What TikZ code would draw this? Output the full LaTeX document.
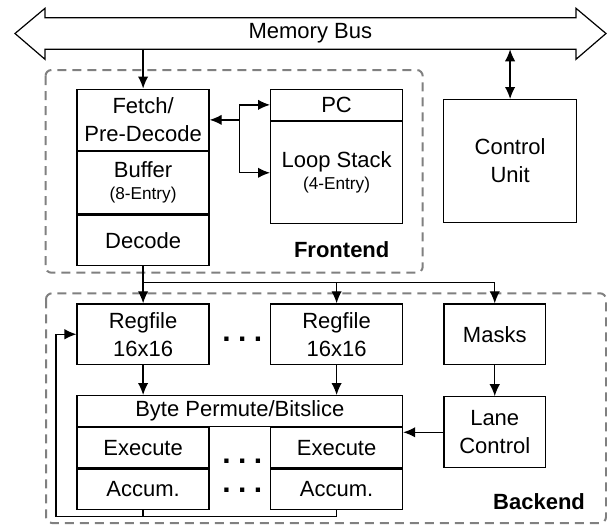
\documentclass[tikz,border=0pt]{standalone}
\usepackage{fontspec}
\setmainfont{Liberation Sans}
\usetikzlibrary{arrows.meta, positioning}
\newcommand{\subtxt}[1]{{\fontsize{8.6}{10}\selectfont #1}}

\begin{document}
\begin{tikzpicture}[
                x=0.5pt, y=-0.5pt,
                >={Latex[length=6pt,width=5.2pt]},
                box/.style={
                    draw,
                    line width=0.6pt,
                    inner sep=0pt,
                    minimum width=66pt,
                    align=center
                },
                arr/.style={
                    ->,
                    line width=0.65pt
                },
                grp/.style={
                    draw=black!50,
                    line width=1pt,
                    dash pattern=on 4.5pt off 3pt,
                    rounded corners=3pt
                },
                dots/.style={anchor=base, font=\fontsize{15}{15}\selectfont\bfseries},
                every node/.style={font=\fontsize{11}{14}\selectfont}
            ]
                \useasboundingbox (0,0) rectangle (607,525);

                % memory bus
                \draw[line width=0.6pt] (15,33.5) -- (45,8.3) -- (45,17.7) -- (576,17.7) -- (576,8.3)
                    -- (606,33.5) -- (576,59.3) -- (576,49.3) -- (45,49.3) -- (45,59.3) -- cycle;
                \node (bus) at (310.3,33.5) {Memory Bus};
                \coordinate (busbot) at (310,49.3);

                % frontend
                \draw[grp] (45.5,70) rectangle (422.7,272.7);
                \node[box, minimum height=30.75pt, anchor=north west] (fetch) at (76.5,88.5) {Fetch/\\Pre-Decode};
                \node[box, minimum height=31pt, below=0pt of fetch] (buffer) {Buffer\\[-3pt]\subtxt{(8-Entry)}};
                \node[box, minimum height=25.25pt, below=0pt of buffer] (decode) {Decode};
                \node[box, minimum height=15.75pt, anchor=north west] (pc) at (270,88.5) {PC};
                \node[box, minimum height=51pt, below=0pt of pc] (loop) {Loop Stack\\[-3pt]\subtxt{(4-Entry)}};
                \node[font=\fontsize{11}{14}\selectfont\bfseries] (frontlbl) at (341.7,250) {Frontend};

                \node[box, minimum width=66.5pt, minimum height=61.5pt, anchor=north west] (ctrl) at (443,99) {Control\\Unit};

                % backend
                \draw[grp] (46,293.3) rectangle (606,523);
                \node[box, minimum height=30.35pt, anchor=north west] (reg1) at (76.5,303.3) {Regfile\\16x16};
                \node[box, minimum height=30.35pt, anchor=north west] (reg2) at (270,303.3) {Regfile\\16x16};
                \node[box, minimum width=50.85pt, minimum height=30.35pt, anchor=north west] (masks) at (443.3,303.3) {Masks};
                \node[box, minimum width=162.75pt, minimum height=15.35pt, anchor=north west] (byte) at (76.5,395) {Byte Permute/Bitslice};
                \node[box, minimum height=20.15pt, anchor=north west] (exe1) at (byte.south west) {Execute};
                \node[box, minimum height=20.35pt, below=0pt of exe1] (acc1) {Accum.};
                \node[box, minimum height=20.15pt, anchor=north east] (exe2) at (byte.south east) {Execute};
                \node[box, minimum height=20.35pt, below=0pt of exe2] (acc2) {Accum.};
                \node[box, minimum width=50.85pt, minimum height=35.5pt, below=15.5pt of masks] (lane) {Lane\\Control};
                \node[font=\fontsize{11}{14}\selectfont\bfseries, anchor=east] (backlbl) at (592,502) {Backend};

                \node[dots] (dotsreg) at (242.3,341) {.\hspace{3.7pt}.\hspace{3.7pt}.};
                \node[dots] (dotsexe) at (242.3,463) {.\hspace{3.7pt}.\hspace{3.7pt}.};
                \node[dots] (dotsacc) at (242.3,492) {.\hspace{3.7pt}.\hspace{3.7pt}.};

                \coordinate (pcx) at (239.3,0);
                \coordinate (split) at (142.5,282.7);
                \coordinate (fb) at (56,516.7);

                \draw[arr] (busbot -| fetch) -- (fetch);
                \draw[arr, <->] (busbot -| ctrl) -- (ctrl);
                \draw[arr, <->] (pc.west) -| (pcx |- loop.west) -- (loop.west);
                \draw[arr] (pcx |- fetch.east) -- (fetch.east);

                \draw[arr] (decode) -- (reg1);
                \draw[arr] (split) -| (masks);
                \draw[arr] (split -| reg2) -- (reg2);
                \draw[arr] (reg1) -- (byte.north -| reg1);
                \draw[arr] (reg2) -- (byte.north -| reg2);
                \draw[arr] (masks) -- (lane);
                \draw[arr] (lane.west) -- (lane.west -| byte.east);
                \draw[arr] (acc1.south) |- (fb) |- (reg1.west);
                \draw[line width=0.6pt] (acc2.south) |- (acc1.south |- fb);

            \end{tikzpicture}
\end{document}
